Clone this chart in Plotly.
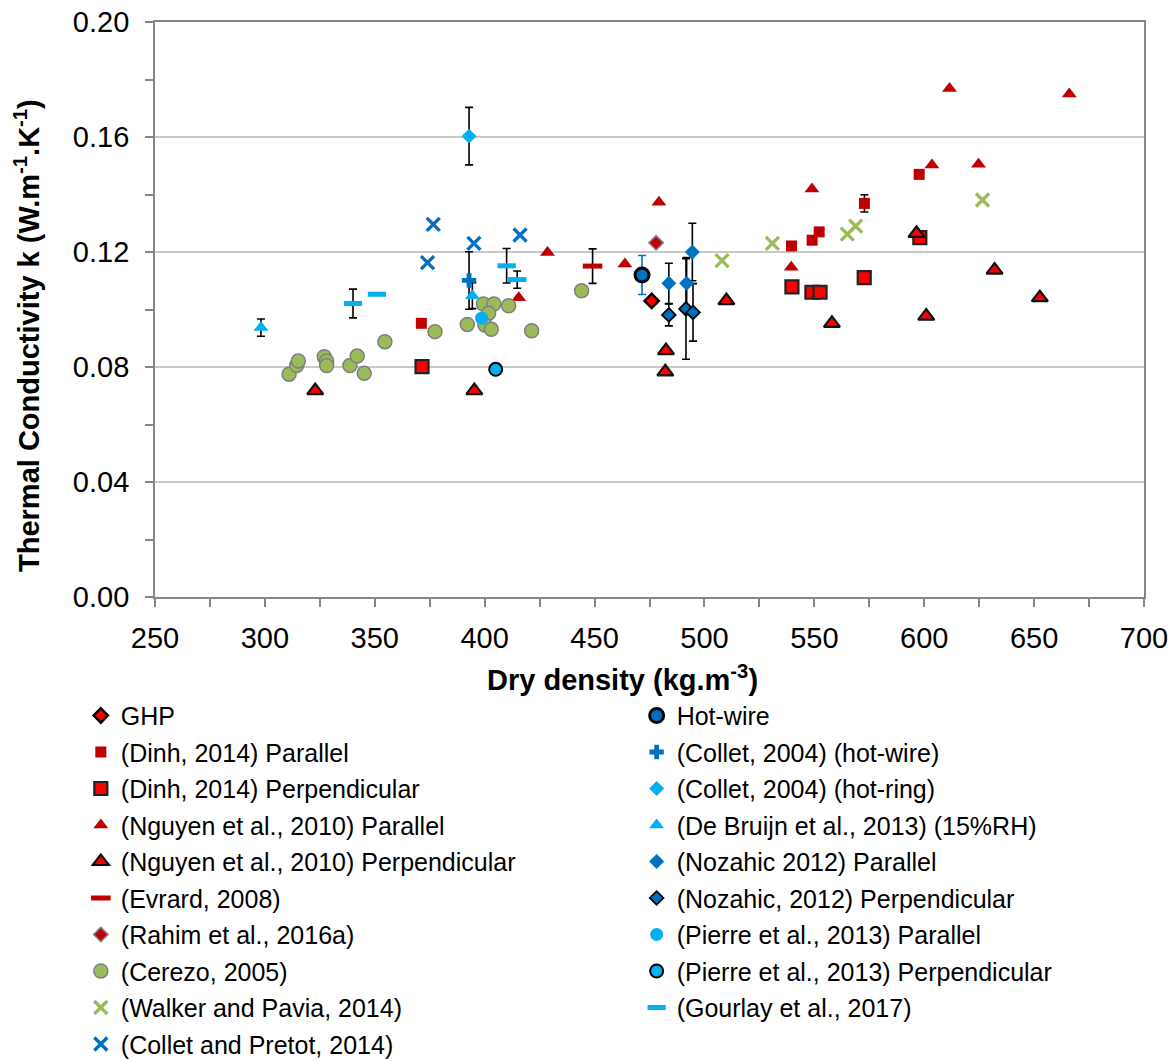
import plotly.graph_objects as go

# ---------------- data ----------------
ghp_x = [476.0]
ghp_y = [0.103]

hotwire_x = [471.6]
hotwire_y = [0.112]
hotwire_err = [0.0068]

dinh_par_x = [371.2, 539.6, 549.0, 552.2, 572.8, 597.7]
dinh_par_y = [0.0952, 0.1221, 0.1241, 0.1270, 0.1369, 0.1470]
dinh_par_err = [0.0, 0.0, 0.0, 0.001, 0.003, 0.001]

dinh_perp_x = [371.5, 539.8, 548.9, 552.6, 572.7, 598.0]
dinh_perp_y = [0.0801, 0.1079, 0.1060, 0.1060, 0.1111, 0.1250]

nguyen_par_x = [415.5, 428.6, 463.8, 479.3, 539.5, 548.9, 603.5, 611.5, 624.7, 666.0]
nguyen_par_y = [0.1041, 0.1198, 0.1158, 0.1373, 0.1147, 0.1419, 0.1503, 0.1769, 0.1505, 0.1750]

nguyen_perp_x = [322.9, 395.3, 482.2, 482.5, 510.0, 558.0, 596.5, 600.9, 632.0, 652.6]
nguyen_perp_y = [0.0718, 0.0718, 0.0783, 0.0857, 0.1031, 0.0952, 0.1265, 0.0977, 0.1137, 0.1041]

evrard_x = [449.1]
evrard_y = [0.1151]
evrard_err = [0.006]

rahim_x = [478.0]
rahim_y = [0.1232]

cerezo_x = [311.0, 314.5, 315.2, 327.0, 328.1, 328.1, 338.7, 342.0, 345.2, 354.6,
            377.4, 392.1, 399.4, 404.2, 401.8, 400.1, 403.0, 410.9, 421.4, 444.1]
cerezo_y = [0.0775, 0.0805, 0.0821, 0.0836, 0.0821, 0.0805, 0.0805, 0.0838, 0.0778, 0.0888,
            0.0923, 0.0948, 0.1019, 0.1019, 0.0987, 0.0946, 0.0931, 0.1013, 0.0926, 0.1065]

walker_x = [508.0, 530.9, 565.0, 568.8, 626.5]
walker_y = [0.1170, 0.1230, 0.1262, 0.1290, 0.1381]

collet_pretot_x = [374.0, 376.6, 395.1, 416.1]
collet_pretot_y = [0.1163, 0.1296, 0.1230, 0.1259]

collet_hw_x = [392.9]
collet_hw_y = [0.1101]
collet_hw_err = [0.010]

collet_hr_x = [392.9]
collet_hr_y = [0.1603]
collet_hr_err = [0.010]

debruijn_x = [298.2, 394.4]
debruijn_y = [0.0937, 0.1048]
debruijn_err = [0.003, 0.0045]

nozahic_par_x = [483.8, 491.9, 494.5]
nozahic_par_y = [0.1091, 0.1091, 0.1200]
nozahic_par_err = [0.007, 0.009, 0.010]

nozahic_perp_x = [483.8, 491.6, 494.8]
nozahic_perp_y = [0.0981, 0.1002, 0.0990]
nozahic_perp_err = [0.0038, 0.0175, 0.010]

pierre_par_x = [398.6]
pierre_par_y = [0.0970]

pierre_perp_x = [405.0]
pierre_perp_y = [0.0792]

gourlay_x = [340.1, 351.0, 410.0, 414.8]
gourlay_y = [0.1021, 0.1053, 0.1152, 0.1104]
gourlay_err = [0.005, 0.0, 0.006, 0.003]

x_ticks = [250, 300, 350, 400, 450, 500, 550, 600, 650, 700]
y_ticks = [0.00, 0.04, 0.08, 0.12, 0.16, 0.20]

x_title = "<b>Dry density (kg.m<sup>-3</sup>)</b>"
y_title = "<b>Thermal Conductivity k (W.m<sup>-1</sup>.K<sup>-1</sup>)</b>"

# ---------------- colours ----------------
RED = "#FF0000"
DRED = "#C00000"
GREEN = "#9BBB59"
BLUE = "#0070C0"
CYAN = "#00B0F0"
BLACK = "#000000"
GREY = "#7F7F7F"

FONT = "Arial, Liberation Sans, sans-serif"

fig = go.Figure()

# ---------- error bars (drawn beneath markers) ----------
def add_err(xs, ys, errs, color=BLACK):
    ex, ey, ee = [], [], []
    for a, b, e in zip(xs, ys, errs):
        if e > 0:
            ex.append(a); ey.append(b); ee.append(e)
    if ex:
        fig.add_trace(go.Scatter(
            x=ex, y=ey, mode="markers",
            marker=dict(size=2, color="rgba(0,0,0,0)"),
            error_y=dict(type="data", array=ee, visible=True, color=color,
                         thickness=1.6, width=4),
            showlegend=False, hoverinfo="skip"))

add_err(hotwire_x, hotwire_y, hotwire_err, BLUE)
add_err(dinh_par_x, dinh_par_y, dinh_par_err)
add_err(evrard_x, evrard_y, evrard_err)
add_err(collet_hw_x, collet_hw_y, collet_hw_err)
add_err(collet_hr_x, collet_hr_y, collet_hr_err)
add_err(debruijn_x, debruijn_y, debruijn_err)
add_err(nozahic_par_x, nozahic_par_y, nozahic_par_err)
add_err(nozahic_perp_x, nozahic_perp_y, nozahic_perp_err)
add_err(gourlay_x, gourlay_y, gourlay_err)

# ---------- series ----------
def add(name, xs, ys, marker, legend):
    fig.add_trace(go.Scatter(x=xs, y=ys, mode="markers", name=name,
                             marker=marker, legend=legend, legendgroup=name))

# left legend column
add("GHP", ghp_x, ghp_y,
    dict(symbol="diamond", size=11, color=RED, line=dict(color=BLACK, width=2.5)), "legend")
add("(Dinh, 2014) Parallel", dinh_par_x, dinh_par_y,
    dict(symbol="square", size=11, color=DRED, line=dict(width=0)), "legend")
add("(Dinh, 2014) Perpendicular", dinh_perp_x, dinh_perp_y,
    dict(symbol="square", size=13, color=RED, line=dict(color="#222222", width=2.2)), "legend")
add("(Nguyen et al., 2010) Parallel", nguyen_par_x, nguyen_par_y,
    dict(symbol="triangle-up", size=13, color=DRED, line=dict(width=0)), "legend")
add("(Nguyen et al., 2010) Perpendicular", nguyen_perp_x, nguyen_perp_y,
    dict(symbol="triangle-up", size=14, color=RED, line=dict(color="#111111", width=2.2)), "legend")
add("(Evrard, 2008)", evrard_x, evrard_y,
    dict(symbol="line-ew", size=14, color=DRED, line=dict(color=DRED, width=5)), "legend")
add("(Rahim et al., 2016a)", rahim_x, rahim_y,
    dict(symbol="diamond", size=11, color=DRED, line=dict(color=GREY, width=1.6)), "legend")
add("(Cerezo, 2005)", cerezo_x, cerezo_y,
    dict(symbol="circle", size=14, color=GREEN, line=dict(color=GREY, width=1.5)), "legend")
add("(Walker and Pavia, 2014)", walker_x, walker_y,
    dict(symbol="x-thin", size=13, color=GREEN, line=dict(color=GREEN, width=3.4)), "legend")
add("(Collet and Pretot, 2014)", collet_pretot_x, collet_pretot_y,
    dict(symbol="x-thin", size=13, color=BLUE, line=dict(color=BLUE, width=3.4)), "legend")

# right legend column
add("Hot-wire", hotwire_x, hotwire_y,
    dict(symbol="circle", size=14, color=BLUE, line=dict(color=BLACK, width=3)), "legend2")
add("(Collet, 2004) (hot-wire)", collet_hw_x, collet_hw_y,
    dict(symbol="cross", size=12, color=BLUE, line=dict(width=0)), "legend2")
add("(Collet, 2004) (hot-ring)", collet_hr_x, collet_hr_y,
    dict(symbol="diamond", size=11.5, color=CYAN, line=dict(width=0)), "legend2")
add("(De Bruijn et al., 2013) (15%RH)", debruijn_x, debruijn_y,
    dict(symbol="triangle-up", size=13, color=CYAN, line=dict(width=0)), "legend2")
add("(Nozahic 2012) Parallel", nozahic_par_x, nozahic_par_y,
    dict(symbol="diamond", size=11.5, color=BLUE, line=dict(width=0)), "legend2")
add("(Nozahic, 2012) Perpendicular", nozahic_perp_x, nozahic_perp_y,
    dict(symbol="diamond", size=10.5, color=BLUE, line=dict(color=BLACK, width=1.8)), "legend2")
add("(Pierre et al., 2013) Parallel", pierre_par_x, pierre_par_y,
    dict(symbol="circle", size=13, color=CYAN, line=dict(width=0)), "legend2")
add("(Pierre et al., 2013) Perpendicular", pierre_perp_x, pierre_perp_y,
    dict(symbol="circle", size=13, color=CYAN, line=dict(color=BLACK, width=2)), "legend2")
add("(Gourlay et al., 2017)", gourlay_x, gourlay_y,
    dict(symbol="line-ew", size=13, color=CYAN, line=dict(color=CYAN, width=5)), "legend2")

legend_common = dict(font=dict(family=FONT, size=25, color=BLACK),
                     bgcolor="rgba(0,0,0,0)", borderwidth=0,
                     xanchor="left", yanchor="top", orientation="v",
                     traceorder="grouped", tracegroupgap=1.0, itemwidth=30)

# the page body adds an 8 px offset, so the figure is 8 px smaller
fig.update_layout(
    width=1168, height=1053,
    margin=dict(l=147, r=32, t=14, b=464, autoexpand=False),
    paper_bgcolor="white", plot_bgcolor="white",
    font=dict(family=FONT, color=BLACK),
    legend=dict(x=-0.075, y=-0.1665, **legend_common),
    legend2=dict(x=0.487, y=-0.1665, **legend_common),
    xaxis=dict(
        range=[250, 700], tickvals=x_ticks, ticktext=[str(v) for v in x_ticks],
        ticks="outside", ticklen=8, tickwidth=1.5, tickcolor="#868686",
        minor=dict(dtick=25, tick0=250, ticks="outside", ticklen=8, tickwidth=1.5,
                   tickcolor="#868686", showgrid=False),
        showline=True, linecolor="#868686", linewidth=1.8, mirror=True,
        showgrid=False, zeroline=False, ticklabeloverflow="allow",
        tickfont=dict(family=FONT, size=29, color=BLACK), ticklabelstandoff=6,
    ),
    yaxis=dict(
        range=[0, 0.20], tickvals=y_ticks, ticktext=["%.2f" % v for v in y_ticks],
        ticks="outside", ticklen=8, tickwidth=1.5, tickcolor="#868686",
        minor=dict(dtick=0.02, tick0=0, ticks="outside", ticklen=8, tickwidth=1.5,
                   tickcolor="#868686", showgrid=False),
        showline=True, linecolor="#868686", linewidth=1.8, mirror=True,
        showgrid=True, gridcolor="#C8C8C8", gridwidth=1.6, zeroline=False,
        ticklabeloverflow="allow",
        tickfont=dict(family=FONT, size=29, color=BLACK), ticklabelstandoff=10,
    ),
    annotations=[
        dict(text=x_title, xref="paper", yref="paper", x=0.4722, y=-0.1409,
             xanchor="center", yanchor="middle", showarrow=False,
             font=dict(family=FONT, size=29, color=BLACK)),
        dict(text=y_title, xref="paper", yref="paper", x=-0.1294, y=0.454,
             xanchor="center", yanchor="middle", showarrow=False, textangle=-90,
             font=dict(family=FONT, size=29, color=BLACK)),
    ],
)

fig.write_html("out.html")
